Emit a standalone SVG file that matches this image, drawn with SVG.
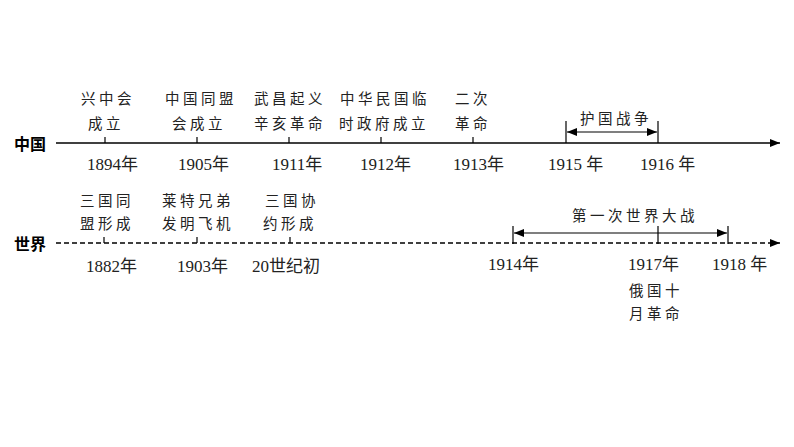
<svg xmlns="http://www.w3.org/2000/svg" width="794" height="447" viewBox="0 0 794 447">
<style>
.lbl{font-family:"Noto Sans CJK SC","Noto Sans CJK JP",sans-serif;font-size:14.5px;letter-spacing:3.5px;fill:#222}
.yr{font-family:"Liberation Serif","Noto Sans CJK SC",serif;font-size:17px;fill:#222}
.axis{font-family:"Noto Sans CJK SC",sans-serif;font-size:16px;font-weight:bold;fill:#000}
.ln{stroke:#000;stroke-width:1.4;fill:none}
.dash{stroke:#000;stroke-width:1.3;fill:none;stroke-dasharray:5 3}
.tk{stroke:#000;stroke-width:1.2;fill:none}
</style>
<defs>
<marker id="ah" viewBox="0 0 10 8" refX="10" refY="4" markerWidth="10" markerHeight="8" markerUnits="userSpaceOnUse" orient="auto-start-reverse">
<path d="M0,0 L10,4 L0,8 Z" fill="#000"/>
</marker>
</defs>
<rect width="794" height="447" fill="#fff"/>
<g id="connectors">
<line class="ln" x1="56" y1="143" x2="780" y2="143" marker-end="url(#ah)"/>
<line class="dash" x1="56" y1="243" x2="780" y2="243"/>
<path d="M770,239 L780,243 L770,247 Z" fill="#000"/>
<line class="tk" x1="105" y1="137" x2="105" y2="143"/>
<line class="tk" x1="197" y1="137" x2="197" y2="143"/>
<line class="tk" x1="289" y1="137" x2="289" y2="143"/>
<line class="tk" x1="381" y1="137" x2="381" y2="143"/>
<line class="tk" x1="473" y1="137" x2="473" y2="143"/>
<line class="tk" x1="566" y1="121" x2="566" y2="143"/>
<line class="tk" x1="658" y1="121" x2="658" y2="143"/>
<line class="tk" x1="567" y1="132" x2="657" y2="132" marker-start="url(#ah)" marker-end="url(#ah)"/>
<line class="tk" x1="104" y1="237" x2="104" y2="243"/>
<line class="tk" x1="197" y1="237" x2="197" y2="243"/>
<line class="tk" x1="290" y1="237" x2="290" y2="243"/>
<line class="tk" x1="513" y1="226" x2="513" y2="244"/>
<line class="tk" x1="658" y1="226" x2="658" y2="244"/>
<line class="tk" x1="728" y1="226" x2="728" y2="244"/>
<line class="tk" x1="514" y1="233" x2="727" y2="233" marker-start="url(#ah)" marker-end="url(#ah)"/>
</g>
<g id="axis-china"><text class="axis" x="14" y="150">中国</text></g>
<g id="axis-world"><text class="axis" x="14" y="250">世界</text></g>
<g id="n1894"><text class="lbl" x="81" y="104">兴中会</text><text class="lbl" x="88" y="129">成立</text><text class="yr" x="87" y="170">1894年</text></g>
<g id="n1905"><text class="lbl" x="165" y="104">中国同盟</text><text class="lbl" x="172" y="129">会成立</text><text class="yr" x="178" y="170">1905年</text></g>
<g id="n1911"><text class="lbl" x="254" y="104">武昌起义</text><text class="lbl" x="254" y="129">辛亥革命</text><text class="yr" x="272" y="170">1911年</text></g>
<g id="n1912"><text class="lbl" x="340" y="104">中华民国临</text><text class="lbl" x="339" y="129">时政府成立</text><text class="yr" x="360" y="170">1912年</text></g>
<g id="n1913"><text class="lbl" x="455" y="104">二次</text><text class="lbl" x="455" y="129">革命</text><text class="yr" x="453" y="170">1913年</text></g>
<g id="n1915"><text class="yr" x="548" y="170">1915 年</text></g>
<g id="n1916"><text class="yr" x="640" y="170">1916 年</text></g>
<g id="huguo"><text class="lbl" x="580" y="124">护国战争</text></g>
<g id="n1882"><text class="lbl" x="80" y="206">三国同</text><text class="lbl" x="80" y="229">盟形成</text><text class="yr" x="86" y="272">1882年</text></g>
<g id="n1903"><text class="lbl" x="162" y="206">莱特兄弟</text><text class="lbl" x="162" y="229">发明飞机</text><text class="yr" x="177" y="272">1903年</text></g>
<g id="n1900s"><text class="lbl" x="265" y="206">三国协</text><text class="lbl" x="263" y="229">约形成</text><text class="yr" x="252" y="272">20世纪初</text></g>
<g id="ww1"><text class="lbl" x="572" y="221">第一次世界大战</text></g>
<g id="n1914"><text class="yr" x="488" y="270">1914年</text></g>
<g id="n1917"><text class="yr" x="628" y="270">1917年</text><text class="lbl" x="629" y="296">俄国十</text><text class="lbl" x="629" y="319">月革命</text></g>
<g id="n1918"><text class="yr" x="712" y="270">1918 年</text></g>
</svg>
